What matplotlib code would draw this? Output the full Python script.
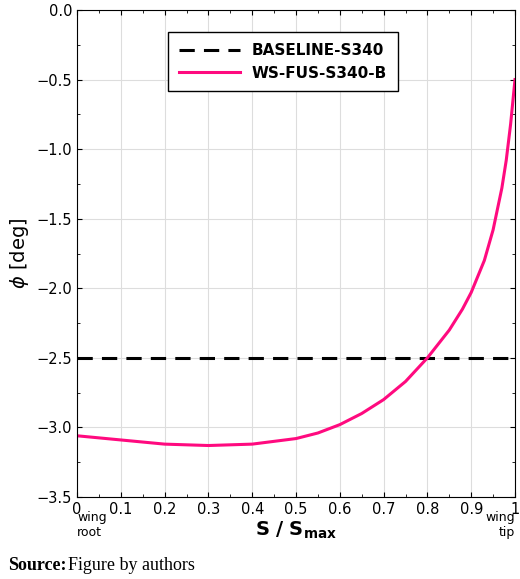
import matplotlib
matplotlib.use("Agg")
import matplotlib.pyplot as plt

s = [0, 0.1, 0.2, 0.3, 0.4, 0.5, 0.55, 0.6, 0.65, 0.7, 0.75, 0.8, 0.85, 0.88, 0.9, 0.93, 0.95, 0.97, 0.98, 0.99, 1.0]
phi_ws = [-3.06, -3.09, -3.12, -3.13, -3.12, -3.08, -3.04, -2.98, -2.90, -2.80, -2.67, -2.50, -2.30, -2.15, -2.03, -1.80, -1.58, -1.28, -1.08, -0.82, -0.50]
base_s = [0, 1]
phi_base = [-2.5, -2.5]
xticks = [0, 0.1, 0.2, 0.3, 0.4, 0.5, 0.6, 0.7, 0.8, 0.9, 1]
xlabels = ["0", "0.1", "0.2", "0.3", "0.4", "0.5", "0.6", "0.7", "0.8", "0.9", "1"]
yticks = [0.0, -0.5, -1.0, -1.5, -2.0, -2.5, -3.0, -3.5]

fig = plt.figure(figsize=(5.2, 5.79), dpi=100)
ax = fig.add_axes([77/520, 1-497/579, 438/520, 487/579])
ax.plot(base_s, phi_base, color="black", lw=2.2, ls=(0, (5, 3)), label="BASELINE-S340")
ax.plot(s, phi_ws, color="#ff0a7f", lw=2.2, label="WS-FUS-S340-B")
ax.set_xlim(0, 1)
ax.set_ylim(-3.5, 0)
ax.set_xticks(xticks)
ax.set_xticklabels(xlabels)
ax.set_yticks(yticks)
ax.set_yticklabels([f"{v:.1f}".replace("-", "\u2212") for v in yticks])
ax.set_xticks([i/20 for i in range(21)], minor=True)
ax.set_yticks([-i*0.25 for i in range(15)], minor=True)
ax.grid(True, color="#dddddd", lw=0.8)
ax.tick_params(direction="in", top=True, right=True, labelsize=10.5)
ax.tick_params(which="minor", direction="in", top=True, right=True, length=2)
ax.set_xlabel(r"$\mathbf{S\ /\ S_{max}}$", fontsize=14, labelpad=2)
ax.set_ylabel(r"$\phi$ [deg]", fontsize=14)
ax.yaxis.label.set_size(14)
ax.text(0, -3.6, "wing\nroot", ha="left", va="top", fontsize=9)
ax.text(1, -3.6, "wing\ntip", ha="right", va="top", fontsize=9)
ax.legend(loc="upper center", bbox_to_anchor=(0.47, 0.97),
          prop={"weight": "bold", "size": 11}, fancybox=False, edgecolor="black",
          handlelength=4, borderpad=0.7, framealpha=1)
fig.text(8/520, 1-565/579, "Source:", family="Liberation Serif", weight="bold",
         fontsize=13, va="center")
fig.text(68/520, 1-565/579, "Figure by authors", family="Liberation Serif",
         fontsize=13, va="center")
fig.savefig("out.png", dpi=100)
